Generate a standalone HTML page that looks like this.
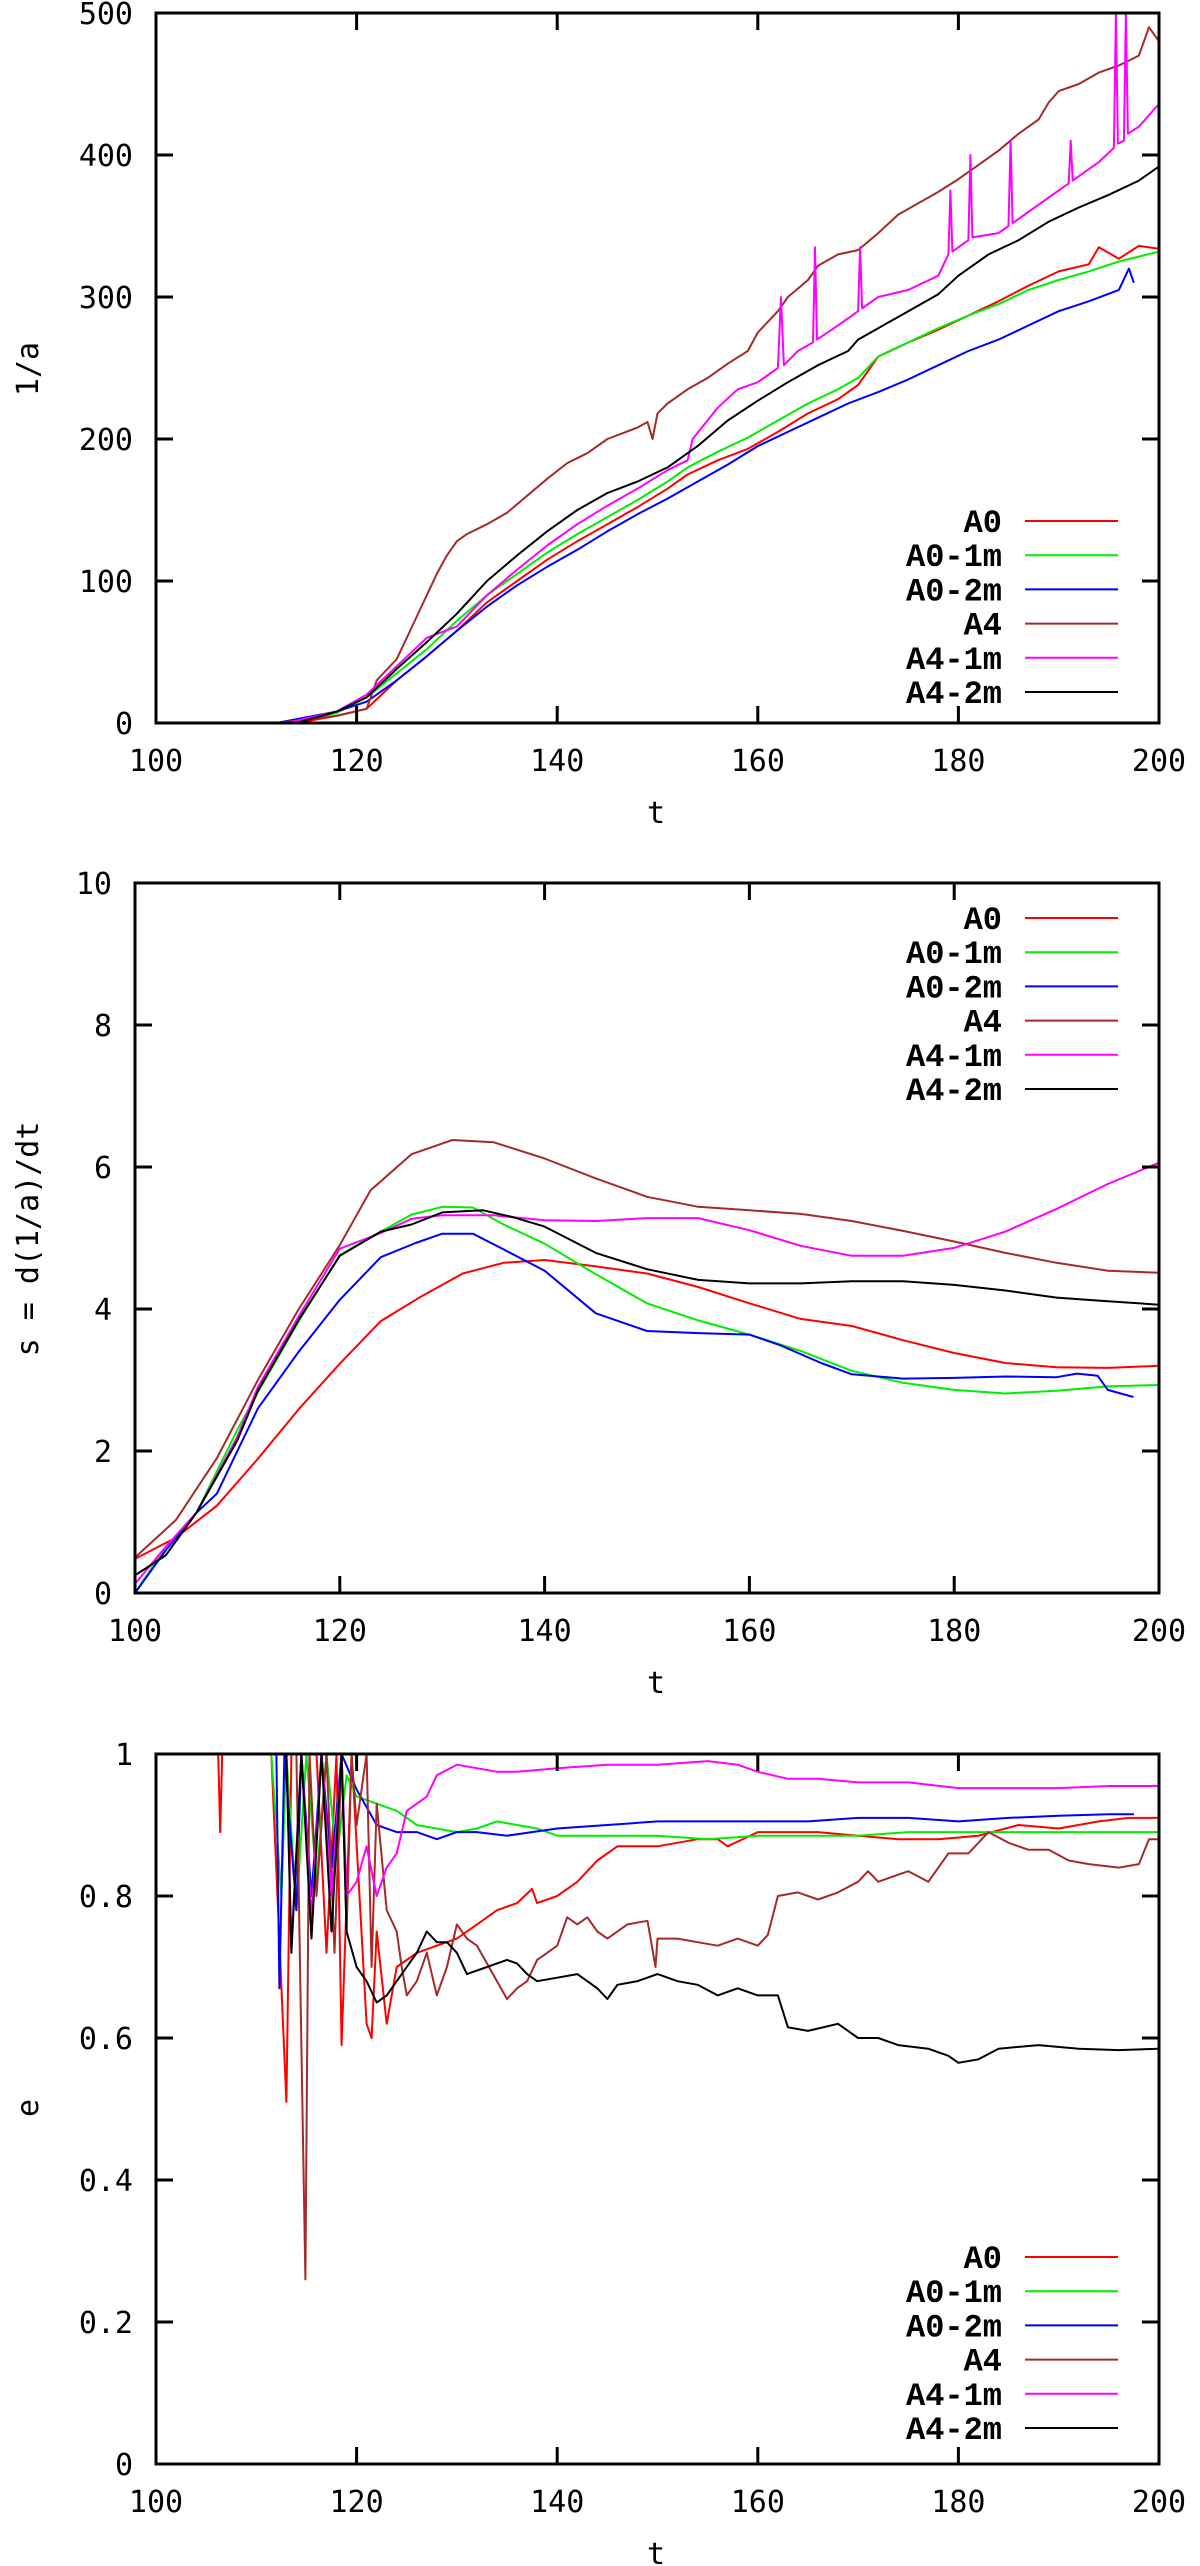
<!DOCTYPE html>
<html><head><meta charset="utf-8"><style>
html,body{margin:0;padding:0;background:#fff}
svg{display:block}
.tk{font-family:"DejaVu Sans Mono","Liberation Mono",monospace;font-size:30px;fill:#000}
.lg{font-family:"Liberation Mono",monospace;font-size:32px;font-weight:bold;fill:#000}
</style></head><body>
<svg id="fig" width="1200" height="2566" viewBox="0 0 1200 2566" xmlns="http://www.w3.org/2000/svg"></svg>
<script>
const seriesNames = ["A0","A0-1m","A0-2m","A4","A4-1m","A4-2m"];
const seriesColors = ["#ff0000","#00ee00","#0000ff","#a52a2a","#ff00ff","#000000"];

// ---- Panel 1: 1/a ----
const p1_A0_t = [114,118,121,124,127,130,133,136,139,142,145,148,151,153,156,159,162,165,168,170,172,175,178,181,184,187,190,193,194,196,198,200];
const p1_A0_v = [0,5,10,30,47,65,85,100,115,128,140,152,165,175,185,193,205,218,228,238,258,268,277,287,297,308,318,323,335,327,336,334];
const p1_A01_t = [113,118,121,124,127,130,133,136,139,142,145,148,151,153,156,159,162,165,168,170,172,175,178,181,184,187,190,193,196,200];
const p1_A01_v = [0,7,18,35,52,72,90,105,120,133,145,157,170,180,191,201,213,225,235,243,258,268,278,287,295,305,312,318,325,332];
const p1_A02_t = [112,118,121,124,127,130,133,136,139,142,145,148,151,154,157,160,163,166,169,172,175,178,181,184,187,190,193,196,197,197.5];
const p1_A02_v = [0,8,15,30,47,65,82,97,110,122,135,147,158,170,182,195,205,215,225,233,242,252,262,270,280,290,297,305,320,310];
const p1_A4_t = [112,118,121,122,124,125,126,127,128,129,130,131,133,135,137,139,141,143,145,148,149,149.5,150,151,153,155,157,159,160,162,163,165,166,168,170,172,174,176,178,180,182,184,186,188,189,190,192,194,196,198,199,200];
const p1_A4_v = [0,5,10,30,45,60,75,90,105,118,128,133,140,148,160,172,183,190,200,208,212,200,218,225,235,243,253,262,275,290,300,312,322,330,333,345,358,366,374,383,393,403,415,425,437,445,450,458,463,470,490,480];
const p1_A41_t = [113,118,121,124,127,130,133,136,139,142,145,148,151,153,153.5,156,158,160,162,162.3,162.6,164,165.5,165.7,165.9,168,170,170.2,170.4,172,175,178,179,179.2,179.4,181,181.2,181.4,184,185,185.2,185.4,188,190,191,191.2,191.4,192,194,195.5,195.7,195.9,196.5,196.7,196.9,198,200];
const p1_A41_v = [0,8,20,40,60,68,90,108,125,140,153,165,178,185,200,222,235,240,250,300,252,262,268,335,270,280,290,335,292,300,305,315,330,375,332,340,400,342,345,350,410,352,365,375,380,410,382,385,395,405,500,408,410,500,415,420,436];
const p1_A42_t = [114,118,121,124,127,130,133,136,139,142,145,148,151,154,157,160,163,166,169,170,172,175,178,180,183,186,189,192,195,198,200];
const p1_A42_v = [0,8,18,38,57,77,100,118,135,150,162,170,180,195,213,227,240,252,262,270,278,290,302,315,330,340,353,363,372,382,392];

// ---- Panel 2: s = d(1/a)/dt ----
const p2_A0_t = [100,104,108,112,116,120,124,128,132,136,140,145,150,155,160,165,170,175,180,185,190,195,200];
const p2_A0_v = [0.48,0.78,1.23,1.89,2.59,3.23,3.83,4.18,4.5,4.65,4.69,4.6,4.5,4.31,4.08,3.86,3.76,3.56,3.38,3.24,3.18,3.17,3.2];
const p2_A01_t = [100,103,106,110,112,116,120,124,127,130,133,136,140,145,150,155,160,165,170,175,180,185,190,195,200];
const p2_A01_v = [0,0.65,1.13,2.3,2.83,3.83,4.76,5.09,5.33,5.44,5.43,5.19,4.92,4.49,4.08,3.84,3.64,3.41,3.13,2.96,2.86,2.81,2.85,2.91,2.93];
const p2_A02_t = [100,103,106,108,112,116,120,124,127.4,130,133,136,140,145,150,155,160,163,167,170,175,180,185,190,192,194,195,197.5];
const p2_A02_v = [0,0.6,1.13,1.4,2.6,3.4,4.13,4.73,4.93,5.06,5.06,4.84,4.54,3.94,3.69,3.66,3.64,3.49,3.24,3.08,3.02,3.03,3.05,3.04,3.09,3.06,2.86,2.76];
const p2_A4_t = [100,104,108,112,116,120,123,127,131,135,140,145,150,155,160,165,170,175,180,185,190,195,200];
const p2_A4_v = [0.5,1.03,1.9,3.0,4.0,4.9,5.67,6.18,6.38,6.35,6.12,5.84,5.58,5.44,5.39,5.34,5.24,5.1,4.95,4.79,4.65,4.54,4.51];
const p2_A41_t = [100,103,106,110,112,116,120,124,127,130,135,140,145,150,155,160,165,170,175,180,185,190,195,200];
const p2_A41_v = [0.13,0.65,1.13,2.2,2.9,3.9,4.85,5.07,5.27,5.32,5.32,5.25,5.24,5.28,5.28,5.11,4.89,4.75,4.75,4.86,5.09,5.41,5.76,6.06];
const p2_A42_t = [100,103,106,110,112,116,120,124,127,130,134,137,140,145,150,155,160,165,170,175,180,185,190,195,200];
const p2_A42_v = [0.25,0.53,1.13,2.15,2.85,3.85,4.75,5.09,5.19,5.36,5.39,5.29,5.16,4.79,4.56,4.41,4.36,4.36,4.39,4.39,4.34,4.26,4.16,4.11,4.06];

// ---- Panel 3: e ----
const p3_A0_t = [105.9,106.2,106.4,106.6,111.5,113,113.5,116,117,118,118.5,119.5,121,121.5,122,123,124,126,128,130,132,134,136,137.5,138,140,142,144,146,148,150,154,156,157,160,162,166,170,174,178,182,186,190,194,197,200];
const p3_A0_v = [1,1,0.89,1,1,0.51,1,1,0.72,1,0.59,1,0.62,0.6,0.75,0.62,0.7,0.72,0.73,0.74,0.76,0.78,0.79,0.81,0.79,0.8,0.82,0.85,0.87,0.87,0.87,0.88,0.88,0.87,0.89,0.89,0.89,0.885,0.88,0.88,0.885,0.9,0.895,0.905,0.91,0.91];
const p3_A01_t = [111.5,112.5,113,114,115,116,117,118,119,120,122,124,126,128,130,132,134,136,138,140,145,150,155,160,165,170,175,180,185,190,195,200];
const p3_A01_v = [1,0.8,1,0.78,1,0.82,1,0.85,0.97,0.94,0.93,0.92,0.9,0.895,0.89,0.895,0.905,0.9,0.895,0.885,0.885,0.885,0.88,0.885,0.885,0.885,0.89,0.89,0.89,0.89,0.89,0.89];
const p3_A02_t = [112,112.3,112.8,114,114.5,115.5,116.5,117.5,118.5,120,122,124,126,128,130,132,135,140,145,150,155,160,165,170,175,180,185,190,195,197.5];
const p3_A02_v = [1,0.67,1,0.78,1,0.8,1,0.84,1,0.95,0.9,0.89,0.89,0.88,0.89,0.89,0.885,0.895,0.9,0.905,0.905,0.905,0.905,0.91,0.91,0.905,0.91,0.913,0.915,0.915];
const p3_A4_t = [114,114.9,115.3,116,117,117.8,118.5,119,119.5,120,121,121.5,122,123,124,124.5,125,126,127,128,129,130,131,132,134,135,136,137,138,139,140,141,142,143,144,145,147,149,149.8,150,152,154,156,158,160,161,162,164,166,168,170,171,172,174,175,177,179,181,183,185,187,189,191,193,196,198,199,200];
const p3_A4_v = [1,0.26,1,0.8,1,0.72,1,0.75,1,0.9,1,0.7,0.93,0.78,0.75,0.7,0.66,0.68,0.72,0.66,0.7,0.76,0.74,0.73,0.68,0.655,0.67,0.68,0.71,0.72,0.73,0.77,0.76,0.77,0.75,0.74,0.76,0.765,0.7,0.74,0.74,0.735,0.73,0.74,0.73,0.745,0.8,0.805,0.795,0.805,0.82,0.835,0.82,0.83,0.835,0.82,0.86,0.86,0.89,0.875,0.865,0.865,0.85,0.845,0.84,0.845,0.88,0.88];
const p3_A41_t = [113,113.5,114.5,115.5,116.5,117.5,118.5,119,120,121,122,123,124,125,126,127,128,130,132,134,136,140,145,150,155,158,160,163,166,170,175,180,185,190,195,200];
const p3_A41_v = [1,0.73,1,0.77,1,0.8,1,0.8,0.82,0.87,0.8,0.84,0.86,0.92,0.93,0.94,0.97,0.985,0.98,0.975,0.975,0.98,0.985,0.985,0.99,0.985,0.975,0.965,0.965,0.96,0.96,0.952,0.952,0.952,0.955,0.955];
const p3_A42_t = [113,113.5,114.5,115.5,116.5,117.5,118.5,119,120,121,122,123,124,126,127,128,129,130,131,133,135,136,137,138,140,142,144,145,146,148,150,152,154,156,158,160,162,163,165,168,170,172,174,177,179,180,182,184,188,192,196,200];
const p3_A42_v = [1,0.72,1,0.74,1,0.75,1,0.75,0.7,0.68,0.65,0.66,0.68,0.72,0.75,0.735,0.735,0.72,0.69,0.7,0.71,0.705,0.69,0.68,0.685,0.69,0.67,0.655,0.675,0.68,0.69,0.68,0.675,0.66,0.67,0.66,0.66,0.615,0.61,0.62,0.6,0.6,0.59,0.585,0.575,0.565,0.57,0.585,0.59,0.585,0.583,0.585];

const xTicks = [100,120,140,160,180,200];
const p1_yTicks = [0,100,200,300,400,500];
const p2_yTicks = [0,2,4,6,8,10];
const p3_yTicks = [0,0.2,0.4,0.6,0.8,1];
const p3_yTickLabels = ["0","0.2","0.4","0.6","0.8","1"];

const NS = "http://www.w3.org/2000/svg";
const svg = document.getElementById("fig");
function mk(tag, attrs, parent){
  const e = document.createElementNS(NS, tag);
  for (const k in attrs) e.setAttribute(k, attrs[k]);
  (parent||svg).appendChild(e);
  return e;
}

function panel(cfg){
  const g = mk("g", {});
  
  
  const L=cfg.left,R=1159,T=cfg.top,B=cfg.top+710;
  const xs = t => L + (t-100)/100*(R-L);
  const ys = v => B - (v-cfg.ymin)/(cfg.ymax-cfg.ymin)*(B-T);
  const clip = mk("clipPath", {id:cfg.id+"clip"}, g);
  mk("rect",{x:L,y:T-1,width:R-L,height:B-T+1},clip);
  // series
  const sg = mk("g",{"clip-path":"url(#"+cfg.id+"clip)"}, g);
  cfg.series.forEach((s,i)=>{
    let d="";
    s.t.forEach((t,j)=>{ d += (j?"L":"M")+xs(t).toFixed(1)+","+ys(s.v[j]).toFixed(1); });
    const p = mk("path",{d:d,fill:"none",stroke:seriesColors[i],"stroke-width":2,"stroke-linejoin":"round"}, sg);
    
    
  });
  // frame
  const fr = mk("rect",{x:L,y:T,width:R-L,height:B-T,fill:"none",stroke:"#000","stroke-width":3}, g);
  
  
  // x ticks
  xTicks.forEach(t=>{
    const x=xs(t);
    mk("line",{x1:x,x2:x,y1:B,y2:B-17,stroke:"#000","stroke-width":3},g);
    mk("line",{x1:x,x2:x,y1:T,y2:T+17,stroke:"#000","stroke-width":3},g);
    const tx = mk("text",{x:x,y:B+48,"text-anchor":"middle",class:"tk"},g);
    tx.textContent=String(t);
    
    
  });
  cfg.yTicks.forEach((v,i)=>{
    const y=ys(v);
    mk("line",{x1:L,x2:L+17,y1:y,y2:y,stroke:"#000","stroke-width":3},g);
    mk("line",{x1:R,x2:R-17,y1:y,y2:y,stroke:"#000","stroke-width":3},g);
    const tx = mk("text",{x:L-23,y:y+11,"text-anchor":"end",class:"tk"},g);
    tx.textContent=cfg.yLabels?cfg.yLabels[i]:String(v);
    
    
  });
  // axis titles
  const xt = mk("text",{x:656,y:B+100,"text-anchor":"middle",class:"tk"},g);
  xt.textContent="t";
  
  
  const yt = mk("text",{x:0,y:0,"text-anchor":"middle",class:"tk",transform:"translate(38,"+cfg.ytitleY+") rotate(-90)"},g);
  yt.textContent=cfg.ytitle;
  
  
  // legend
  seriesNames.forEach((n,i)=>{
    const y = cfg.legY + i*34.2;
    const lt = mk("text",{x:1002,y:y+11,"text-anchor":"end",class:"lg"},g);
    lt.textContent=n;
    
    
    const ll = mk("line",{x1:1025,x2:1118,y1:y,y2:y,stroke:seriesColors[i],"stroke-width":2},g);
    
    
  });
}

panel({id:"p1",name:"inverse-a-panel",left:156,top:13,ymin:0,ymax:500,yTicks:p1_yTicks,ytitle:"1/a",ytitleY:369,legY:521,
  series:[{t:p1_A0_t,v:p1_A0_v},{t:p1_A01_t,v:p1_A01_v},{t:p1_A02_t,v:p1_A02_v},{t:p1_A4_t,v:p1_A4_v},{t:p1_A41_t,v:p1_A41_v},{t:p1_A42_t,v:p1_A42_v}]});
panel({id:"p2",name:"slope-panel",left:135,top:883,ymin:0,ymax:10,yTicks:p2_yTicks,ytitle:"s = d(1/a)/dt",ytitleY:1239,legY:918,
  series:[{t:p2_A0_t,v:p2_A0_v},{t:p2_A01_t,v:p2_A01_v},{t:p2_A02_t,v:p2_A02_v},{t:p2_A4_t,v:p2_A4_v},{t:p2_A41_t,v:p2_A41_v},{t:p2_A42_t,v:p2_A42_v}]});
panel({id:"p3",name:"eccentricity-panel",left:156,top:1754,ymin:0,ymax:1,yTicks:p3_yTicks,yLabels:p3_yTickLabels,ytitle:"e",ytitleY:2108,legY:2257,
  series:[{t:p3_A0_t,v:p3_A0_v},{t:p3_A01_t,v:p3_A01_v},{t:p3_A02_t,v:p3_A02_v},{t:p3_A4_t,v:p3_A4_v},{t:p3_A41_t,v:p3_A41_v},{t:p3_A42_t,v:p3_A42_v}]});
</script>
</body></html>
